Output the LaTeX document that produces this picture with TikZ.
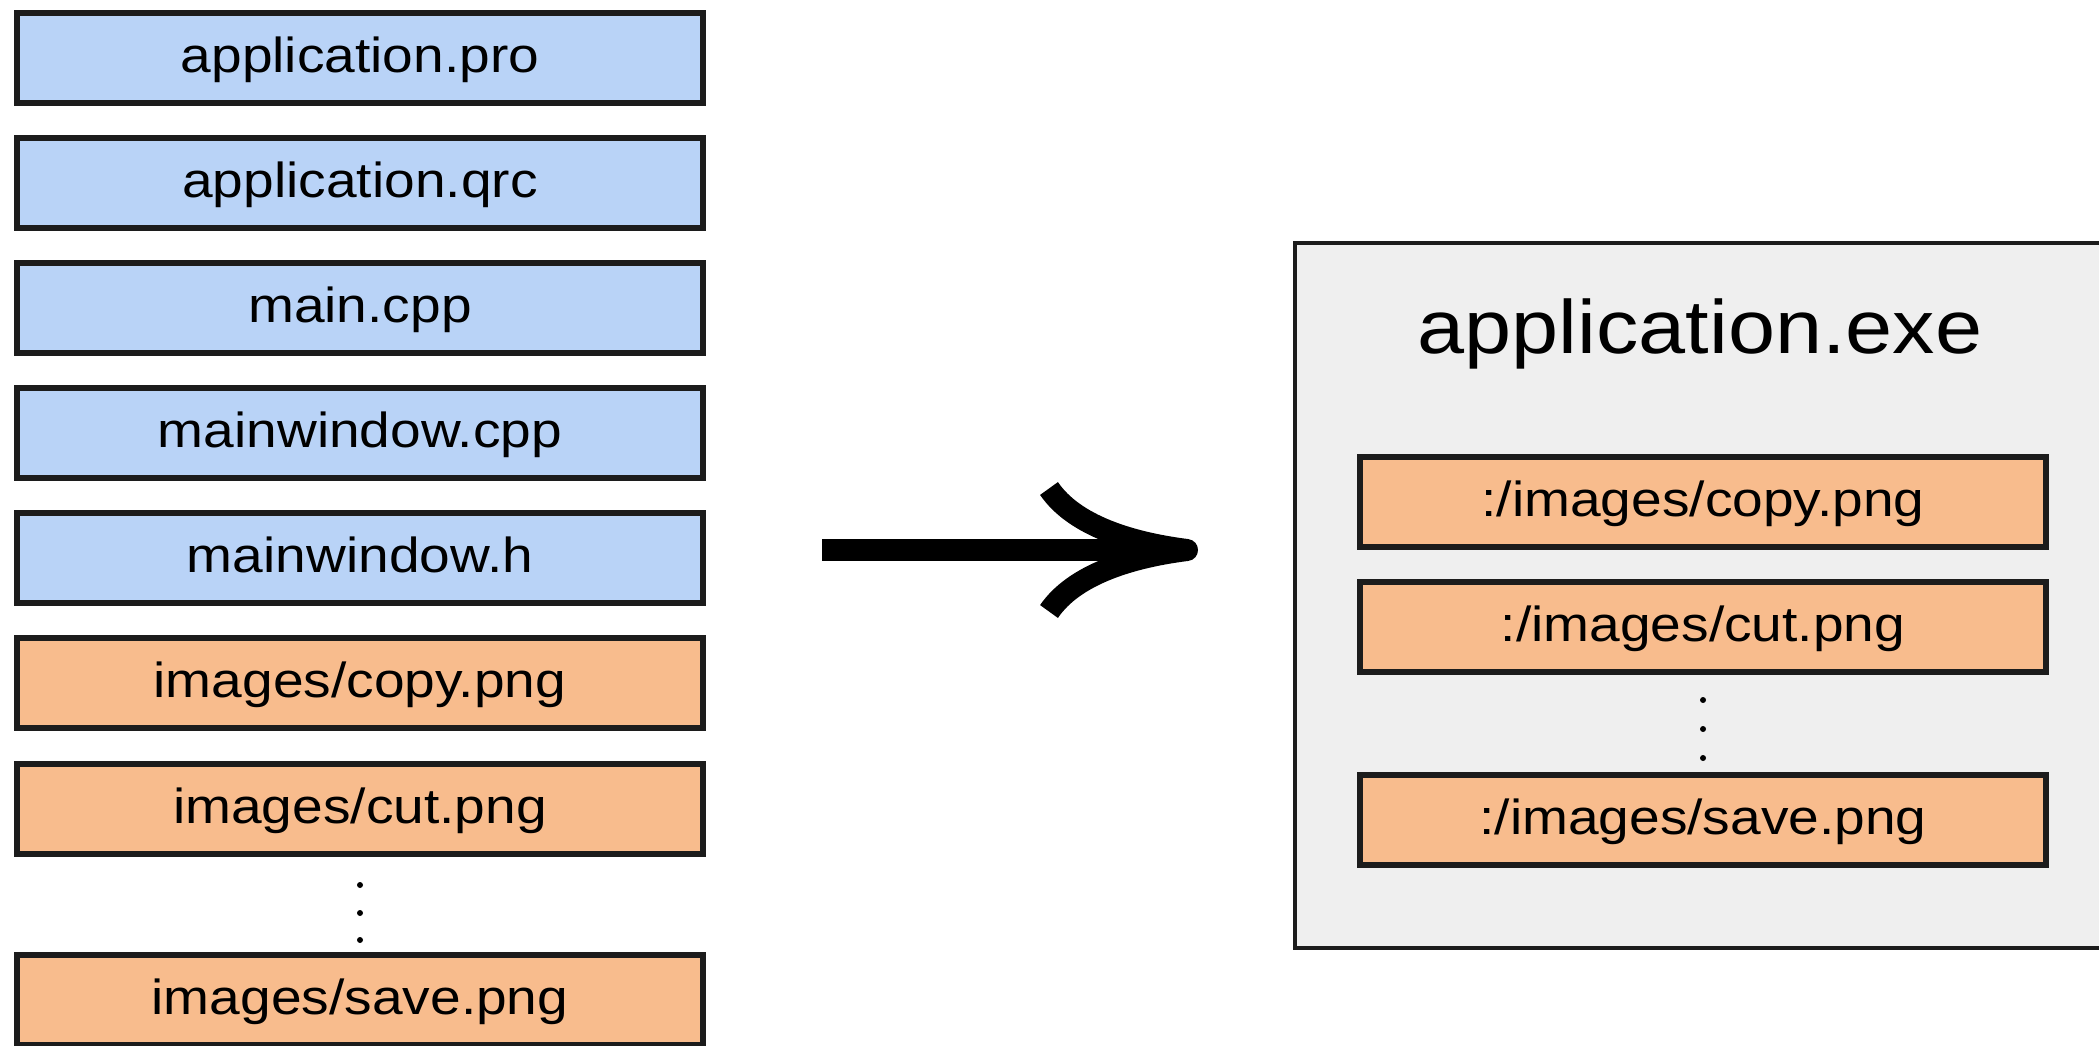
\documentclass[tikz,border=0pt]{standalone}
\usepackage{fontspec}
\setmainfont{Liberation Sans}[FakeStretch=1.12]
\usetikzlibrary{arrows.meta}
\definecolor{srcblue}{HTML}{B9D3F7}
\definecolor{imgorange}{HTML}{F8BC8D}
\definecolor{exegray}{HTML}{EFEFEF}
\definecolor{boxline}{HTML}{1C1C1C}

\begin{document}
\begin{tikzpicture}[
    file/.style={draw=boxline, line width=1.5pt, minimum width=6.86cm,
      minimum height=0.9cm, inner sep=0pt, text height=11pt, text depth=3pt,
      font=\fontsize{14}{16}\selectfont},
    src/.style={file, fill=srcblue},
    img/.style={file, fill=imgorange}]
  \useasboundingbox (0,0) rectangle (20.99,-10.45);
  \fill[white] (0,0) rectangle (20.99,-10.45);

  % source tree
  \node[src] (pro) at (3.60,-0.58) {application.pro};
  \node[src] (qrc) at (3.60,-1.83) {application.qrc};
  \node[src] (main) at (3.60,-3.08) {main.cpp};
  \node[src] (mwcpp) at (3.60,-4.33) {mainwindow.cpp};
  \node[src] (mwh) at (3.60,-5.58) {mainwindow.h};
  \node[img] (copy) at (3.60,-6.83) {images/copy.png};
  \node[img] (cut) at (3.60,-8.09) {images/cut.png};
  \node[img] (save) at (3.60,-10.00) {images/save.png};
  \foreach \y in {-8.85,-9.13,-9.40}
    \fill (3.60,\y) circle (0.03);

  % the built executable
  \node[draw=boxline, line width=1.1pt, fill=exegray, minimum width=8.4cm,
    minimum height=7.05cm, anchor=north west] (exe) at (12.93,-2.41) {};
  \node[font=\fontsize{21.5}{26}\selectfont] (exename) at (17.00,-3.34) {application.exe};
  \node[img] (rcopy) at (17.03,-5.02) {:/images/copy.png};
  \node[img] (rcut) at (17.03,-6.27) {:/images/cut.png};
  \node[img] (rsave) at (17.03,-8.20) {:/images/save.png};
  \foreach \y in {-7.00,-7.29,-7.58}
    \fill (17.03,\y) circle (0.03);

  \coordinate (from) at (8.22,-5.50);
  \coordinate (to) at (11.98,-5.50);
  \draw[line width=0.22cm,
    -{Computer Modern Rightarrow[length=1.6cm,width=1.45cm,line cap=butt]}]
    (from) -- (to);
\end{tikzpicture}
\end{document}
